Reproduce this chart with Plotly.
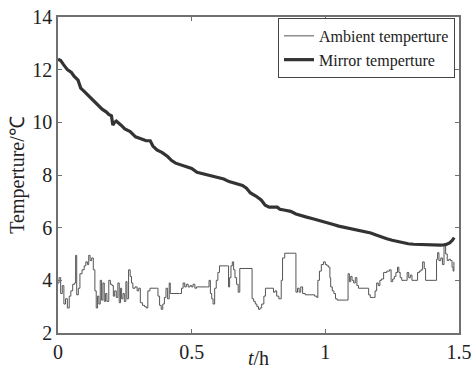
import plotly.graph_objects as go

# Ambient temperature (t in h, value in °C) – stepwise trace
amb_t = [0.000, 0.004, 0.010, 0.016, 0.022, 0.028, 0.035, 0.042, 0.048, 0.055, 0.062, 0.066, 0.070, 0.076,
         0.082, 0.090, 0.098, 0.104, 0.110, 0.115, 0.120, 0.126, 0.132, 0.138, 0.143, 0.148, 0.153, 0.158,
         0.163, 0.168, 0.173, 0.178, 0.183, 0.190, 0.196, 0.202, 0.207, 0.212, 0.218, 0.224, 0.229, 0.234,
         0.238, 0.243, 0.248, 0.254, 0.258, 0.264, 0.270, 0.275, 0.280, 0.288, 0.296, 0.302, 0.308, 0.316,
         0.324, 0.330, 0.336, 0.344, 0.368, 0.374, 0.380, 0.386, 0.392, 0.398, 0.404, 0.410, 0.416, 0.420,
         0.455, 0.462, 0.468, 0.474, 0.480, 0.487, 0.494, 0.500, 0.505, 0.512, 0.518, 0.560, 0.565, 0.570,
         0.575, 0.580, 0.586, 0.592, 0.598, 0.604, 0.634, 0.638, 0.642, 0.647, 0.652, 0.657, 0.662, 0.668,
         0.674, 0.680, 0.722, 0.726, 0.732, 0.738, 0.744, 0.750, 0.756, 0.762, 0.770, 0.776, 0.800, 0.806,
         0.812, 0.818, 0.826, 0.835, 0.840, 0.848, 0.887, 0.890, 0.896, 0.902, 0.908, 0.915, 0.925, 0.960,
         0.968, 0.972, 0.978, 0.985, 0.993, 1.000, 1.006, 1.012, 1.017, 1.020, 1.026, 1.032, 1.038, 1.044,
         1.080, 1.085, 1.090, 1.095, 1.100, 1.106, 1.112, 1.118, 1.124, 1.155, 1.162, 1.168, 1.180, 1.186,
         1.192, 1.198, 1.204, 1.210, 1.218, 1.230, 1.240, 1.246, 1.252, 1.258, 1.264, 1.270, 1.275, 1.280,
         1.286, 1.300, 1.306, 1.312, 1.318, 1.324, 1.335, 1.345, 1.352, 1.358, 1.364, 1.370, 1.375, 1.410,
         1.416, 1.420, 1.425, 1.432, 1.438, 1.444, 1.450, 1.456, 1.462, 1.468, 1.474, 1.478, 1.481]
amb_v = [3.90, 4.10, 3.50, 3.80, 3.10, 3.30, 2.95, 3.40, 3.60, 3.85, 3.90, 4.95, 3.45, 3.70,
         4.25, 4.40, 4.55, 4.70, 4.60, 4.95, 4.75, 4.85, 4.40, 3.60, 2.95, 3.40, 3.10, 4.00,
         3.25, 3.90, 3.20, 3.50, 3.20, 4.00, 3.85, 3.80, 3.40, 3.60, 3.35, 3.90, 3.15, 3.70,
         3.30, 3.50, 3.20, 3.95, 3.30, 4.40, 4.15, 3.90, 3.70, 3.75, 3.60, 3.70, 3.15, 3.05,
         3.00, 2.95, 3.60, 3.70, 3.70, 3.40, 3.05, 2.90, 3.10, 3.35, 3.70, 3.30, 3.90, 3.50,
         3.50, 3.70, 3.90, 3.75, 3.85, 3.75, 3.80, 3.75, 3.85, 3.70, 3.75, 3.75, 4.00, 3.50,
         3.30, 3.10, 3.70, 4.00, 4.30, 4.55, 4.55, 3.75, 4.10, 4.55, 4.70, 4.40, 4.10, 3.85,
         3.55, 4.45, 4.45, 3.30, 3.20, 3.10, 3.00, 2.90, 2.95, 3.10, 3.40, 3.70, 3.70, 3.55,
         3.60, 3.40, 3.30, 4.00, 4.85, 5.03, 5.03, 3.55, 3.70, 3.55, 3.75, 3.50, 3.45, 3.40,
         3.35, 4.00, 4.35, 4.60, 4.70, 4.60, 4.55, 4.50, 4.10, 3.75, 3.60, 3.50, 3.30, 3.25,
         3.25, 4.25, 3.95, 4.15, 4.00, 3.90, 4.10, 3.80, 3.70, 3.70, 3.45, 3.35, 3.35, 3.60,
         3.90, 3.80, 4.00, 4.05, 4.30, 4.35, 4.40, 3.95, 4.05, 4.15, 4.30, 4.50, 4.30, 4.10,
         4.00, 4.00, 4.30, 4.10, 4.20, 4.00, 4.00, 4.30, 4.35, 4.40, 4.70, 4.45, 4.00, 4.00,
         4.80, 5.05, 4.75, 4.85, 4.60, 5.40, 5.00, 4.75, 4.80, 4.75, 4.50, 4.35, 4.70]

# Mirror temperature
mir_t = [0.000, 0.010, 0.020, 0.035, 0.050, 0.060, 0.075, 0.085, 0.095, 0.105, 0.112, 0.120, 0.135, 0.150,
         0.165, 0.180, 0.190, 0.200, 0.205, 0.212, 0.218, 0.235, 0.250, 0.270, 0.290, 0.310, 0.330, 0.345,
         0.355, 0.370, 0.390, 0.410, 0.425, 0.440, 0.455, 0.470, 0.485, 0.500, 0.520, 0.540, 0.560, 0.580,
         0.600, 0.620, 0.640, 0.660, 0.690, 0.705, 0.720, 0.740, 0.760, 0.775, 0.790, 0.820, 0.830, 0.850,
         0.870, 0.890, 0.910, 0.930, 0.950, 0.970, 0.990, 1.010, 1.030, 1.050, 1.070, 1.090, 1.110, 1.130,
         1.150, 1.170, 1.190, 1.210, 1.230, 1.250, 1.270, 1.290, 1.310, 1.330, 1.350, 1.370, 1.390, 1.410,
         1.430, 1.450, 1.465, 1.475, 1.482]
mir_v = [12.40, 12.35, 12.20, 12.00, 11.90, 11.75, 11.60, 11.30, 11.20, 11.10, 11.00, 10.95, 10.80, 10.65,
         10.50, 10.40, 10.30, 10.25, 9.90, 10.00, 10.05, 9.90, 9.75, 9.65, 9.45, 9.38, 9.30, 9.30,
         9.10, 8.95, 8.85, 8.70, 8.55, 8.45, 8.40, 8.38, 8.30, 8.25, 8.10, 8.05, 8.00, 7.95,
         7.90, 7.85, 7.75, 7.70, 7.60, 7.50, 7.32, 7.20, 7.05, 6.85, 6.78, 6.78, 6.70, 6.66,
         6.62, 6.52, 6.45, 6.40, 6.35, 6.30, 6.25, 6.18, 6.12, 6.06, 6.02, 5.98, 5.93, 5.88,
         5.84, 5.80, 5.72, 5.64, 5.58, 5.52, 5.47, 5.43, 5.39, 5.37, 5.36, 5.34, 5.33, 5.33,
         5.34, 5.35, 5.42, 5.52, 5.62]

x_ticks = [0, 0.5, 1, 1.5]
x_ticklabels = ["0", "0.5", "1", "1.5"]
y_ticks = [2, 4, 6, 8, 10, 12, 14]

FONT = "Liberation Serif, Times New Roman, serif"

fig = go.Figure()
fig.add_trace(go.Scatter(x=amb_t, y=amb_v, mode="lines", name="Ambient temperture",
                         line=dict(color="#555555", width=1, shape="hv")))
fig.add_trace(go.Scatter(x=mir_t, y=mir_v, mode="lines", name="Mirror temperture",
                         line=dict(color="#333333", width=3.2)))

axis_common = dict(showline=True, mirror="ticks", linecolor="#707070", linewidth=1.5,
                   ticks="inside", ticklen=4, tickcolor="#707070", tickwidth=1,
                   showgrid=False, zeroline=False,
                   tickfont=dict(family=FONT, size=20, color="#222222"))

fig.update_layout(
    width=475, height=369,
    margin=dict(l=58, r=16, t=17, b=36, autoexpand=False),
    paper_bgcolor="white", plot_bgcolor="white",
    font=dict(family=FONT, size=20, color="#222222"),
    showlegend=True,
    legend=dict(x=0.99, y=0.997, xanchor="right", yanchor="top",
                bgcolor="white", bordercolor="#444444", borderwidth=1,
                font=dict(family=FONT, size=16, color="#222222"),
                tracegroupgap=0, itemwidth=30),
    xaxis=dict(range=[0, 1.5], tickvals=x_ticks, ticktext=x_ticklabels,
               title=dict(text="<i>t</i>/h", font=dict(family=FONT, size=20), standoff=0),
               **axis_common),
    yaxis=dict(range=[2, 14], tickvals=y_ticks,
               title=dict(text="Temperture/℃", font=dict(family=FONT, size=20), standoff=2),
               **axis_common),
)

fig.write_html("out.html")
